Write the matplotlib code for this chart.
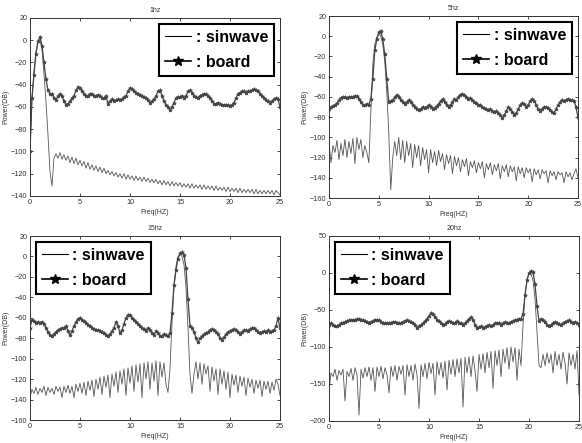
import matplotlib
matplotlib.use('Agg')
import matplotlib.pyplot as plt
import numpy as np
from matplotlib.lines import Line2D

plt.rcParams['font.family'] = ['Liberation Sans', 'DejaVu Sans']

# frequency grid (Hz), 0.2 Hz step
freq = np.linspace(0, 25, 126)

titles = ['1hz', '5hz', '15hz', '20hz']

board_1hz = [
    -100, -52, -31, -12, -1,
    3, -5, -20, -35, -45,
    -48, -48, -52, -54, -50,
    -48, -50, -55, -58, -57,
    -55, -52, -50, -45, -42,
    -43, -46, -48, -50, -50,
    -48, -48, -50, -50, -49,
    -50, -52, -52, -50, -57,
    -55, -53, -55, -54, -53,
    -54, -53, -51, -50, -46,
    -43, -44, -46, -47, -48,
    -49, -50, -51, -52, -54,
    -56, -55, -53, -50, -46,
    -45, -50, -55, -58, -60,
    -63, -60, -56, -52, -51,
    -51, -50, -52, -50, -46,
    -45, -47, -50, -51, -52,
    -50, -49, -48, -48, -50,
    -52, -55, -57, -57, -56,
    -57, -58, -58, -58, -58,
    -59, -58, -56, -52, -48,
    -47, -46, -46, -47, -46,
    -46, -45, -44, -45, -46,
    -48, -50, -52, -54, -55,
    -56, -55, -53, -52, -53,
    -60]

sin_1hz = [
    -100, -52, -28, -10, -2,
    0, -8, -30, -55, -85,
    -118, -131, -106, -102, -106,
    -101, -107, -103, -108, -104,
    -110, -105, -111, -106, -112,
    -108, -113, -109, -115, -110,
    -116, -112, -117, -113, -118,
    -114, -119, -115, -120, -117,
    -121, -118, -122, -119, -123,
    -120, -124, -120, -125, -121,
    -125, -122, -126, -122, -126,
    -123, -127, -123, -127, -124,
    -128, -125, -128, -125, -129,
    -126, -130, -126, -130, -127,
    -131, -127, -131, -128, -131,
    -128, -132, -129, -132, -129,
    -133, -129, -133, -130, -133,
    -130, -134, -130, -134, -131,
    -134, -131, -135, -131, -135,
    -132, -135, -132, -136, -132,
    -136, -133, -136, -133, -137,
    -133, -137, -134, -137, -134,
    -137, -134, -138, -134, -138,
    -135, -138, -135, -138, -135,
    -138, -135, -139, -135, -137,
    -139]

board_5hz = [
    -72, -70, -69, -68, -66,
    -63, -61, -60, -60, -61,
    -60, -60, -60, -59, -59,
    -62, -65, -68, -68, -67,
    -68, -62, -42, -14, -3,
    4, 5, -3, -18, -42,
    -65, -64, -63, -60, -58,
    -60, -63, -65, -67, -65,
    -63, -65, -68, -70, -72,
    -73, -72, -70, -71, -70,
    -68, -70, -72, -71, -69,
    -67, -64, -62, -65, -68,
    -70, -68, -65, -62, -63,
    -60, -58, -57, -58, -60,
    -62, -61, -63, -65, -66,
    -68, -68, -70, -71, -72,
    -73, -72, -74, -75, -74,
    -76, -78, -81, -78, -74,
    -70, -72, -75, -78, -76,
    -72, -68, -66, -67, -70,
    -68, -64, -62, -64, -68,
    -72, -74, -72, -70, -70,
    -71, -73, -75, -76, -72,
    -68, -65, -63, -64, -63,
    -62, -63, -63, -64, -70,
    -80]

sin_5hz = [
    -105, -125, -108, -115, -103,
    -122, -106, -118, -102, -120,
    -104, -116, -101, -126, -100,
    -112, -102, -120, -108, -115,
    -125, -75, -28, -8, -1,
    2, 0, -8, -25, -55,
    -95, -152, -120, -104, -118,
    -100, -122, -103, -125, -104,
    -118, -106, -130, -107, -120,
    -108, -128, -110, -122, -112,
    -135, -112, -125, -114, -128,
    -113, -124, -116, -132, -117,
    -126, -118, -136, -119, -128,
    -120, -134, -122, -129, -121,
    -138, -124, -130, -123, -135,
    -125, -131, -124, -140, -126,
    -132, -125, -137, -127, -133,
    -126, -141, -128, -134, -127,
    -139, -128, -134, -129, -143,
    -129, -136, -130, -140, -130,
    -135, -131, -144, -131, -137,
    -132, -141, -132, -136, -133,
    -145, -133, -138, -134, -142,
    -134, -137, -135, -145, -134,
    -139, -135, -142, -136, -131,
    -140]

board_15hz = [
    -70, -62, -63, -65, -64,
    -65, -64, -66, -70, -74,
    -77, -78, -76, -74, -72,
    -71, -70, -70, -68, -73,
    -77, -73, -68, -64, -61,
    -60, -62, -63, -65, -67,
    -68, -70, -71, -72, -72,
    -73, -74, -75, -77, -78,
    -76, -73, -70, -64, -68,
    -75, -72, -66, -60, -57,
    -57, -60, -62, -64, -66,
    -68, -70, -71, -73, -70,
    -72, -75, -77, -73, -75,
    -78, -78, -76, -77, -78,
    -75, -55, -28, -13, -2,
    3, 4, 1, -11, -42,
    -68, -70, -74, -80, -84,
    -80, -78, -76, -75, -74,
    -72, -71, -72, -74, -76,
    -80, -82, -79, -76, -74,
    -73, -72, -71, -72, -74,
    -76, -74, -72, -72, -73,
    -71, -70, -70, -72, -74,
    -75, -74, -73, -74, -72,
    -74, -73, -72, -68, -60,
    -70]

sin_15hz = [
    -138, -130, -134, -128, -135,
    -129, -133, -127, -136, -128,
    -133, -129, -135, -127, -132,
    -128, -138, -127, -133, -126,
    -134, -127, -138, -125, -132,
    -124, -134, -123, -136, -122,
    -131, -121, -137, -120, -130,
    -118, -135, -117, -128, -116,
    -138, -115, -127, -113, -133,
    -112, -125, -110, -136, -109,
    -124, -107, -132, -106, -123,
    -105, -138, -104, -120, -103,
    -130, -104, -122, -102, -136,
    -103, -118, -104, -125, -133,
    -110, -65, -30, -10, 0,
    2, 0, -8, -30, -70,
    -115, -134, -115, -103, -120,
    -104, -125, -105, -115, -107,
    -132, -108, -122, -110, -135,
    -110, -125, -112, -130, -113,
    -138, -115, -126, -116, -133,
    -117, -127, -118, -136, -119,
    -128, -120, -134, -121, -129,
    -121, -137, -122, -130, -122,
    -134, -123, -131, -120, -125,
    -136]

board_20hz = [
    -70, -68, -70, -72, -72,
    -70, -68, -67, -66, -65,
    -64, -64, -63, -63, -62,
    -62, -63, -64, -65, -66,
    -67, -66, -65, -63, -63,
    -64, -66, -67, -68, -68,
    -68, -67, -66, -66, -67,
    -68, -68, -66, -65, -64,
    -65, -66, -68, -70, -75,
    -72, -70, -68, -65, -62,
    -58, -54, -55, -60, -63,
    -65, -67, -70, -69, -66,
    -65, -66, -68, -67, -65,
    -67, -68, -70, -68, -65,
    -62, -60, -63, -70, -75,
    -73, -72, -74, -73, -71,
    -70, -72, -70, -68, -67,
    -68, -70, -68, -66, -67,
    -68, -66, -65, -64, -63,
    -62, -62, -55, -30, -10,
    0, 3, 1, -15, -45,
    -65, -62, -63, -66, -70,
    -72, -70, -68, -66, -67,
    -69, -70, -68, -66, -65,
    -64, -66, -67, -66, -68,
    -70]

sin_20hz = [
    -160, -135, -140, -130, -145,
    -132, -138, -130, -173, -133,
    -140, -129, -145, -128, -138,
    -192, -130, -142, -128, -140,
    -127, -145, -128, -160, -127,
    -140, -126, -143, -128, -138,
    -162, -126, -140, -125, -145,
    -126, -137, -125, -165, -124,
    -140, -125, -145, -123, -138,
    -183, -124, -140, -122, -143,
    -121, -136, -122, -165, -120,
    -138, -121, -142, -119, -158,
    -118, -137, -117, -140, -116,
    -135, -115, -181, -114, -135,
    -113, -140, -112, -132, -160,
    -110, -130, -109, -135, -107,
    -128, -106, -156, -105, -125,
    -104, -140, -103, -122, -101,
    -130, -100, -120, -101, -145,
    -103, -125, -70, -30, -8,
    0, -1, -10, -35, -80,
    -125, -128, -110, -125, -108,
    -122, -110, -135, -106, -125,
    -110, -130, -107, -122, -150,
    -108, -125, -110, -130, -105,
    -165]

sin_data = [sin_1hz, sin_5hz, sin_15hz, sin_20hz]
board_data = [board_1hz, board_5hz, board_15hz, board_20hz]
y_limits = [(-140, 20), (-160, 20), (-160, 20), (-200, 50)]
y_steps = [20, 20, 20, 50]
legend_loc = ['upper right', 'upper right', 'upper left', 'upper left']

# axes rectangles in figure fractions (left, bottom, width, height)
rects = [
    [0.0515, 0.5576, 0.4296, 0.4018],
    [0.5653, 0.5530, 0.4278, 0.4108],
    [0.0515, 0.0519, 0.4296, 0.4153],
    [0.5653, 0.0497, 0.4296, 0.4176],
]

fig = plt.figure(figsize=(5.82, 4.43), dpi=100)

for i in range(4):
    ax = fig.add_axes(rects[i])
    ax.plot(freq, sin_data[i], color='#555555', lw=0.6)
    ax.plot(freq, board_data[i], color='#444444', lw=0.9,
            marker='*', markersize=2.8, markeredgewidth=0.5)
    ax.set_xlim(0, 25)
    ax.set_ylim(*y_limits[i])
    ax.set_xticks([0, 5, 10, 15, 20, 25])
    lo, hi = y_limits[i]
    ax.set_yticks(np.arange(lo, hi + 1, y_steps[i]))
    ax.tick_params(direction='in', top=True, right=True, length=2.5,
                   width=0.5, labelsize=5.2, labelcolor='#333333', pad=2)
    for s in ax.spines.values():
        s.set_linewidth(0.7)
        s.set_color('#333333')
    ax.set_title(titles[i], fontsize=5, color='#333333', pad=4)
    ax.set_xlabel('Freq(HZ)', fontsize=5, color='#333333', labelpad=2)
    ax.set_ylabel('Power(DB)', fontsize=5, color='#333333', labelpad=1)

    h1 = Line2D([], [], color='black', lw=0.8)
    h2 = Line2D([], [], color='black', lw=1.2, marker='*', markersize=7)
    leg = ax.legend([h1, h2], [': sinwave', ': board'], loc=legend_loc[i],
                    prop={'family': 'Liberation Sans', 'weight': 'bold', 'size': 11.5},
                    fancybox=False, framealpha=1, edgecolor='black',
                    handlelength=1.6, handletextpad=0.3, borderpad=0.4,
                    labelspacing=0.6, borderaxespad=0.35)
    leg.get_frame().set_linewidth(1.5)

plt.savefig('out.png', dpi=100)
